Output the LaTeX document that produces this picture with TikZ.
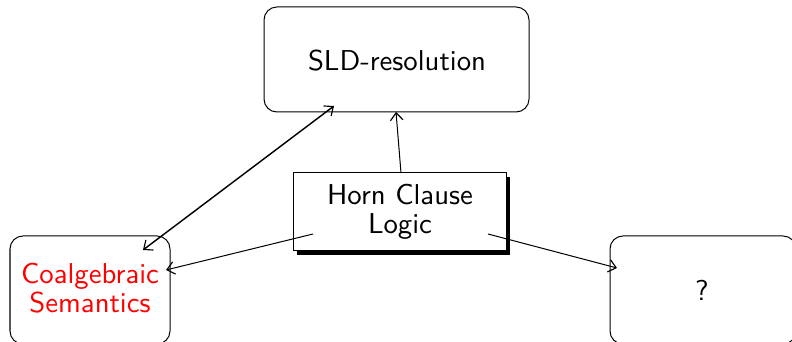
\documentclass[tikz,border=0pt]{standalone}
\usetikzlibrary{shadows,arrows.meta}
\begin{document}
\begin{tikzpicture}[x=0.348pt,y=-0.348pt,
  font=\sffamily\fontsize{10}{10.2}\selectfont,
  tip/.tip={Straight Barb[length=2.6pt,width=4.4pt,line width=0.4pt]},
  rbox/.style={draw,rounded corners=4.5pt,line width=0.35pt},
  lbl/.style={align=center,inner sep=0pt},
  conn/.style={-tip,line width=0.35pt}]
  \useasboundingbox (0,0) rectangle (792,342);
  % rounded boxes
  \draw[rbox] (264,7) rectangle (529,112);
  \node[lbl] (sld) at (397,61) {SLD-resolution};
  \coordinate (sldb) at (396,112);
  \draw[rbox] (10,236) rectangle (170,344);
  \node[lbl,text=red] (coal) at (90,288) {Coalgebraic\\Semantics};
  \draw[rbox] (610,236) rectangle (796,344);
  \node[lbl] (q) at (702,290) {?};
  % the shadowed box
  \draw[fill=white,line width=0.35pt,
        drop shadow={fill=black,opacity=1,shadow xshift=1.4pt,shadow yshift=-1.5pt}]
    (293,173) rectangle (506,251);
  \node[lbl] (horn) at (400,212) {Horn Clause\\Logic};
  % connectors
  \coordinate (ht) at (401,173);
  \coordinate (hl) at (313,234);
  \coordinate (hr) at (488,234);
  \coordinate (ct) at (143,250);
  \coordinate (cr) at (166,270);
  \coordinate (sl) at (334,106);
  \coordinate (ql) at (617,268);
  \draw[conn] (ht) -- (sldb);
  \draw[conn,tip-tip,line width=0.5pt] (ct) -- (sl);
  \draw[conn] (hl) -- (cr);
  \draw[conn] (hr) -- (ql);
\end{tikzpicture}
\end{document}
